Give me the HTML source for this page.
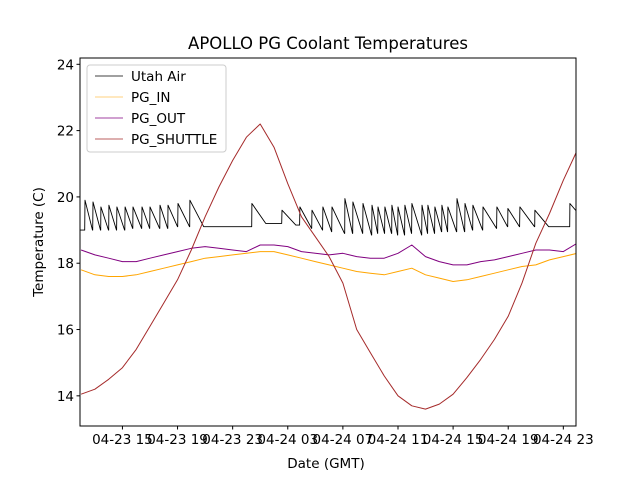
<!DOCTYPE html>
<html><head><meta charset="utf-8"><style>
body{margin:0;background:#fff}
svg text{font-family:"DejaVu Sans","Liberation Sans",sans-serif;fill:#000}
</style></head><body>
<svg id="chart" width="640" height="480" viewBox="0 0 640 480" xmlns="http://www.w3.org/2000/svg">
<rect width="640" height="480" fill="#fff"/>
<text x="328" y="49" font-size="16.5" text-anchor="middle">APOLLO PG Coolant Temperatures</text>
<g id="plot"></g>
<rect x="80" y="58" width="496" height="368" fill="none" stroke="#000" stroke-width="1"/>
<g id="axes"></g>
<text x="326" y="468" font-size="13.5" text-anchor="middle">Date (GMT)</text>
<text transform="translate(43,242) rotate(-90)" font-size="13.5" text-anchor="middle">Temperature (C)</text>
<g>
<rect x="87" y="65" width="139" height="87" rx="3" fill="#fff" fill-opacity="0.8" stroke="#ccc"/>
<g><line x1="95" y1="76" x2="123" y2="76" stroke="#000" stroke-width="0.8"/><text x="131" y="81" font-size="13.5">Utah Air</text></g>
<g><line x1="95" y1="97" x2="123" y2="97" stroke="#ffa500" stroke-width="0.6"/><text x="131" y="102" font-size="13.5">PG_IN</text></g>
<g><line x1="95" y1="118" x2="123" y2="118" stroke="#800080" stroke-width="0.8"/><text x="131" y="123" font-size="13.5">PG_OUT</text></g>
<g><line x1="95" y1="139" x2="123" y2="139" stroke="#a52a2a" stroke-width="0.8"/><text x="131" y="144" font-size="13.5">PG_SHUTTLE</text></g>
</g>
</svg>
<script>
// hours since 04-23 00:00 GMT
const hours = [12,13,14,15,16,17,18,19,20,21,22,23,24,25,26,27,28,29,30,31,32,33,34,35,36,37,38,39,40,41,42,43,44,45,46,47,48];
const pgIn = [17.8,17.65,17.6,17.6,17.65,17.75,17.85,17.95,18.05,18.15,18.2,18.25,18.3,18.35,18.35,18.25,18.15,18.05,17.95,17.85,17.75,17.7,17.65,17.75,17.85,17.65,17.55,17.45,17.5,17.6,17.7,17.8,17.9,17.95,18.1,18.2,18.3];
const pgOut = [18.4,18.25,18.15,18.05,18.05,18.15,18.25,18.35,18.45,18.5,18.45,18.4,18.35,18.55,18.55,18.5,18.35,18.3,18.25,18.3,18.2,18.15,18.15,18.3,18.55,18.2,18.05,17.95,17.95,18.05,18.1,18.2,18.3,18.4,18.4,18.35,18.6];
const pgShuttle = [14.05,14.2,14.5,14.85,15.4,16.1,16.8,17.5,18.4,19.4,20.3,21.1,21.8,22.2,21.5,20.4,19.4,18.8,18.2,17.4,16.0,15.3,14.6,14.0,13.7,13.6,13.75,14.05,14.55,15.1,15.7,16.4,17.4,18.6,19.5,20.5,21.4];
const airPeakHours = [12.28,12.86,13.44,14.02,14.6,15.19,15.77,16.42,17.0,17.73,18.31,19.03,19.9,24.4,26.58,27.88,28.76,29.55,30.21,31.15,31.73,32.46,33.11,33.55,34.05,34.56,35.0,35.5,36.01,36.74,37.17,37.68,38.19,38.62,39.28,39.86,40.44,41.17,42.18,42.98,43.85,44.94,47.48];
const airPeak = [19.9,19.85,19.7,19.75,19.7,19.7,19.7,19.7,19.7,19.75,19.75,19.8,19.9,19.8,19.6,19.7,19.6,19.7,19.7,19.95,19.85,19.8,19.75,19.7,19.7,19.75,19.7,19.75,19.8,19.75,19.75,19.7,19.75,19.7,19.95,19.8,19.75,19.7,19.7,19.65,19.7,19.6,19.8];
const airTrough = [19.0,19.0,19.0,19.0,19.0,19.05,19.05,19.05,19.05,19.05,19.1,19.1,19.1,19.2,19.15,19.05,19.0,18.95,18.9,18.9,18.9,18.85,18.9,18.9,18.9,18.85,18.85,18.9,18.85,18.9,18.9,18.95,18.95,18.95,18.95,19.0,19.0,19.05,19.1,19.1,19.1,19.1,19.45];
const yTicks = [14,16,18,20,22,24];
const xTickHours = [15,19,23,27,31,35,39,43,47];
const xTickLabels = ["04-23 15","04-23 19","04-23 23","04-24 03","04-24 07","04-24 11","04-24 15","04-24 19","04-24 23"];

const X0=80,X1=576,Y0=58,Y1=426, HMIN=11.92, HMAX=47.92, VMIN=13.09, VMAX=24.19;
const xs = h => X0 + (h-HMIN)/(HMAX-HMIN)*(X1-X0);
const ys = v => Y1 - (v-VMIN)/(VMAX-VMIN)*(Y1-Y0);
const NS="http://www.w3.org/2000/svg";
const plot=document.getElementById('plot'), axes=document.getElementById('axes');
function mk(tag,attrs,parent){const e=document.createElementNS(NS,tag);for(const k in attrs)e.setAttribute(k,attrs[k]);parent.appendChild(e);return e;}
const clip=mk('clipPath',{id:'pc'},plot);mk('rect',{x:X0,y:Y0,width:X1-X0,height:Y1-Y0},clip);
function line(h,v,color,name,w){
  const pts=h.map((t,i)=>xs(t).toFixed(1)+','+ys(v[i]).toFixed(1)).join(' ');
  const p=mk('polyline',{points:pts,fill:'none',stroke:color,'stroke-width':w,'clip-path':'url(#pc)','stroke-linejoin':'round'},plot);
  
  
}
// Utah air sawtooth from peak arrays
const aH=[HMIN],aV=[airTrough[0]];
for(let i=0;i<airPeakHours.length;i++){
  const t=airPeakHours[i], next=i+1<airPeakHours.length?airPeakHours[i+1]:HMAX+0.3;
  aH.push(t-0.02);aV.push(i>0?airTrough[i-1]:airTrough[0]);
  aH.push(t);aV.push(airPeak[i]);
  const gap=next-t;
  if(gap>1.2){aH.push(t+1.0);aV.push(airTrough[i]);}
  aH.push(next-0.03);aV.push(airTrough[i]);
}
line(pgIn.length?hours:[],pgIn,'#ffa500','pg-in-line',1);
line(hours,pgOut,'#800080','pg-out-line',1);
line(aH,aV,'#000','utah-air-line',0.9);
line(hours,pgShuttle,'#a52a2a','pg-shuttle-line',1);

yTicks.forEach(v=>{
  const y=ys(v);
  const t=mk('line',{x1:X0-3.5,x2:X0,y1:y,y2:y,stroke:'#000'},axes);
  
  
  const l=mk('text',{x:X0-6,y:y+5,'font-size':'13.5','text-anchor':'end'},axes);l.textContent=v;
  
  
});
xTickHours.forEach((h,i)=>{
  const x=xs(h);
  const t=mk('line',{x1:x,x2:x,y1:Y1,y2:Y1+3.5,stroke:'#000'},axes);
  
  
  const l=mk('text',{x:x,y:Y1+18,'font-size':'13.5','text-anchor':'middle'},axes);l.textContent=xTickLabels[i];
  
  
});
</script>
</body></html>
